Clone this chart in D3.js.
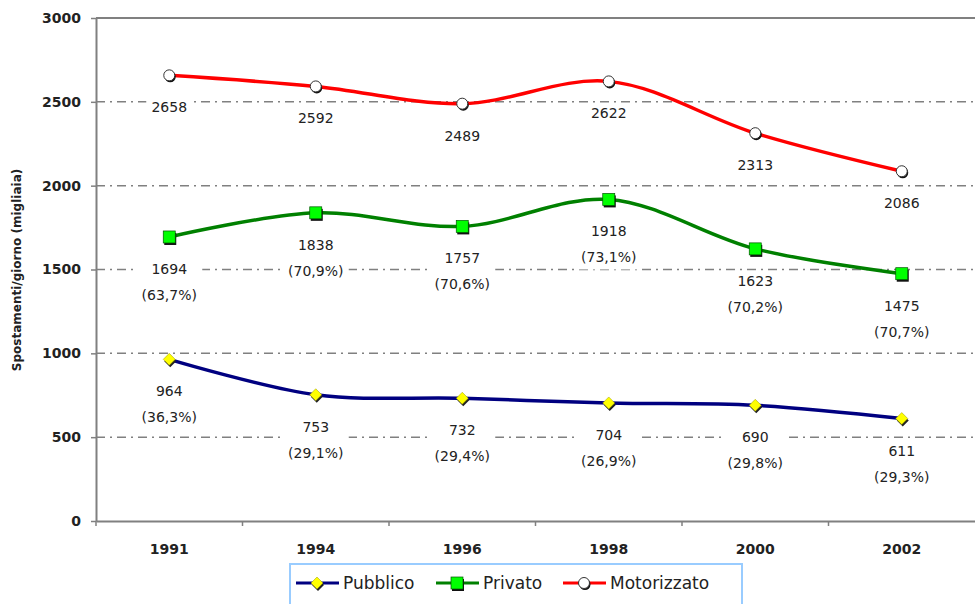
<!DOCTYPE html>
<html>
<head>
<meta charset="utf-8">
<script src="https://cdn.jsdelivr.net/npm/d3@7"></script>
<style>
  body { margin: 0; background: white; }
  text { font-family: "DejaVu Sans", Verdana, sans-serif; }
</style>
</head>
<body>
<script>
// data
var years = ["1991", "1994", "1996", "1998", "2000", "2002"];
var pubblico = [964, 753, 732, 704, 690, 611];
var pubblicoPct = ["36,3%", "29,1%", "29,4%", "26,9%", "29,8%", "29,3%"];
var privato = [1694, 1838, 1757, 1918, 1623, 1475];
var privatoPct = ["63,7%", "70,9%", "70,6%", "73,1%", "70,2%", "70,7%"];
var motorizzato = [2658, 2592, 2489, 2622, 2313, 2086];
var yTicks = [0, 500, 1000, 1500, 2000, 2500, 3000];

// dimensions chart
var width = 975;
var height = 604;
var plotLeft = 96;
var plotRight = 975;
var plotTop = 18;
var plotBottom = 521;

var series = [
  { name: "Pubblico", values: pubblico, pct: pubblicoPct, color: "#000080", marker: "diamond" },
  { name: "Privato", values: privato, pct: privatoPct, color: "#008000", marker: "square" },
  { name: "Motorizzato", values: motorizzato, pct: null, color: "#ff0000", marker: "circle" }
];

var svg = d3.select("body")
  .append("svg")
  .attr("width", width)
  .attr("height", height);

var xScale = d3.scaleBand()
  .domain(years)
  .range([plotLeft, plotRight]);

var yScale = d3.scaleLinear()
  .domain([0, 3000])
  .range([plotBottom, plotTop]);

// gridlines
svg.selectAll(".grid")
  .data(yTicks.filter(function(d) { return d > 0; }))
  .enter()
  .append("line")
  .attr("x1", plotLeft)
  .attr("x2", plotRight)
  .attr("y1", function(d) { return yScale(d); })
  .attr("y2", function(d) { return yScale(d); })
  .attr("stroke", "#808080")
  .attr("stroke-width", function(d) { return d == 3000 ? 2 : 1.5; })
  .attr("stroke-dasharray", function(d) { return d == 3000 ? null : "9,5,2,5"; });

// y axis
var yAxis = d3.axisLeft(yScale).tickValues(yTicks).tickFormat(d3.format("d")).tickSize(5).tickSizeOuter(0);
var gy = svg.append("g")
  .attr("transform", "translate(" + [plotLeft, 0] + ")")
  .call(yAxis);
gy.select(".domain").attr("stroke", "#808080").attr("stroke-width", 2);
gy.selectAll(".tick line").attr("stroke", "#808080").attr("stroke-width", 1.5);
gy.selectAll(".tick text")
  .attr("x", -15)
  .style("font-size", "14px")
  .style("font-weight", "bold")
  .attr("fill", "#222");

// x axis
var xAxis = d3.axisBottom(xScale).tickSize(0).tickSizeOuter(0);
var gx = svg.append("g")
  .attr("transform", "translate(" + [0, plotBottom] + ")")
  .call(xAxis);
gx.select(".domain").attr("stroke", "#808080").attr("stroke-width", 2);
gx.selectAll(".tick text")
  .attr("y", 23)
  .style("font-size", "14px")
  .style("font-weight", "bold")
  .attr("fill", "#222");

// tick marks between the categories
svg.selectAll(".xtick")
  .data(years)
  .enter()
  .append("line")
  .attr("x1", function(d) { return xScale(d); })
  .attr("x2", function(d) { return xScale(d); })
  .attr("y1", plotBottom)
  .attr("y2", plotBottom + 5)
  .attr("stroke", "#808080")
  .attr("stroke-width", 1.5);

// y label
svg.append("text")
  .attr("text-anchor", "middle")
  .attr("transform", "translate(" + [21, 270] + ") rotate(-90)")
  .style("font-size", "12px")
  .style("font-weight", "bold")
  .attr("fill", "#222")
  .text("Spostamenti/giorno (migliaia)");

function xPos(i) {
  return xScale(years[i]) + xScale.bandwidth() / 2;
}

// lines
var line = d3.line()
  .x(function(d, i) { return xPos(i); })
  .y(function(d) { return yScale(d); })
  .curve(d3.curveCatmullRom.alpha(0.5));

series.forEach(function(s) {
  svg.append("path")
    .attr("d", line(s.values))
    .attr("fill", "none")
    .attr("stroke", s.color)
    .attr("stroke-width", 3.5);
});

// markers
function drawMarker(g, type, x, y) {
  if (type == "diamond") {
    var p = function(dx, dy) {
      return "M" + (x + dx) + "," + (y + dy - 6) + "L" + (x + dx + 6) + "," + (y + dy) +
        "L" + (x + dx) + "," + (y + dy + 6) + "L" + (x + dx - 6) + "," + (y + dy) + "Z";
    };
    g.append("path").attr("d", p(1, 2)).attr("fill", "#222");
    g.append("path").attr("d", p(0, 0)).attr("fill", "#ffff00").attr("stroke", "#999900").attr("stroke-width", 0.5);
  } else if (type == "square") {
    g.append("rect").attr("x", x - 5).attr("y", y - 4).attr("width", 12).attr("height", 12).attr("fill", "#111");
    g.append("rect").attr("x", x - 6).attr("y", y - 6).attr("width", 12).attr("height", 12)
      .attr("fill", "#00ff00").attr("stroke", "#005500").attr("stroke-width", 0.7);
  } else {
    g.append("circle").attr("cx", x + 1).attr("cy", y + 1.5).attr("r", 5.5).attr("fill", "#111");
    g.append("circle").attr("cx", x).attr("cy", y).attr("r", 5.5)
      .attr("fill", "white").attr("stroke", "#333").attr("stroke-width", 1);
  }
}

series.forEach(function(s) {
  s.values.forEach(function(v, i) {
    drawMarker(svg.append("g"), s.marker, xPos(i), yScale(v));
  });
});

// data labels
series.forEach(function(s) {
  s.values.forEach(function(v, i) {
    var x = xPos(i);
    var y = yScale(v) + 33;
    var lines = s.pct ? [String(v), "(" + s.pct[i] + ")"] : [String(v)];
    var g = svg.append("g");
    var bw = s.pct ? 66 : 46;
    g.append("rect")
      .attr("x", x - bw / 2)
      .attr("y", y - 11)
      .attr("width", bw)
      .attr("height", lines.length * 26 - 4)
      .attr("fill", "white");
    lines.forEach(function(t, j) {
      g.append("text")
        .attr("x", x)
        .attr("y", y + j * 26)
        .attr("text-anchor", "middle")
        .attr("dominant-baseline", "middle")
        .style("font-size", "14px")
        .attr("fill", "#222")
        .text(t);
    });
  });
});

// legend
var legend = svg.append("g");
legend.append("rect")
  .attr("x", 290)
  .attr("y", 564)
  .attr("width", 452)
  .attr("height", 50)
  .attr("fill", "white")
  .attr("stroke", "#99ccff")
  .attr("stroke-width", 2);

var legendX = [296, 436, 563];
series.forEach(function(s, i) {
  var lx = legendX[i];
  legend.append("line")
    .attr("x1", lx).attr("x2", lx + 43)
    .attr("y1", 583).attr("y2", 583)
    .attr("stroke", s.color)
    .attr("stroke-width", 3);
  drawMarker(legend.append("g"), s.marker, lx + 21, 583);
  legend.append("text")
    .attr("x", lx + 47)
    .attr("y", 584)
    .attr("dominant-baseline", "middle")
    .style("font-size", "17px")
    .attr("fill", "#222")
    .text(s.name);
});
</script>
</body>
</html>
